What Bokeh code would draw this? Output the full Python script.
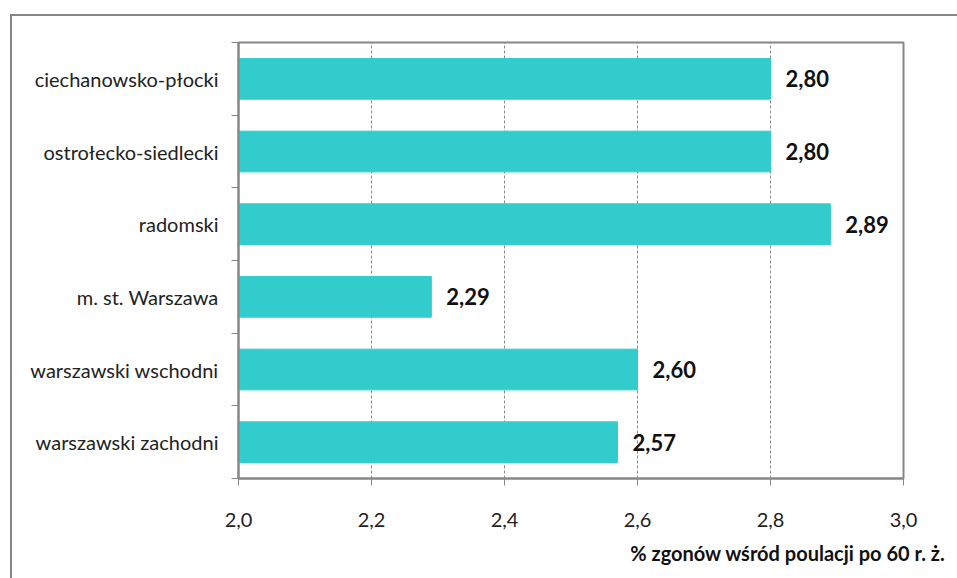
from bokeh.plotting import figure
from bokeh.models import FixedTicker, Title, ColumnDataSource
from bokeh.core.properties import value
from bokeh.embed import file_html
from bokeh.resources import INLINE

categories = ["ciechanowsko-płocki", "ostrołecko-siedlecki", "radomski",
              "m. st. Warszawa", "warszawski wschodni", "warszawski zachodni"]
values = [2.80, 2.80, 2.89, 2.29, 2.60, 2.57]
x_ticks = [2.0, 2.2, 2.4, 2.6, 2.8, 3.0]
x_tick_labels = ["2,0", "2,2", "2,4", "2,6", "2,8", "3,0"]
axis_title = "% zgonów wśród poulacji po 60 r. ż."

n = len(categories)
ypos = [n - 1 - i + 0.5 for i in range(n)]
labels = [f"{v:.2f}".replace(".", ",") for v in values]
src = ColumnDataSource(dict(y=ypos, v=values, lab=labels, cat=categories))

FONT = "Lato"
GRAY = "#868686"

p = figure(frame_width=665, frame_height=436, x_range=(2.0, 3.0), y_range=(0, n),
           output_backend="svg", toolbar_location=None,
           min_border_left=226, min_border_right=54, min_border_top=26, min_border_bottom=100)
p.styles = {"margin-left": "10px", "margin-top": "14px",
            "border-left": "2px solid #868686", "border-top": "2px solid #868686"}

p.hbar(y="y", left=2.0, right="v", height=0.56, source=src,
       fill_color="#33CCCC", line_color="#33CCCC")
p.text(x="v", y="y", text="lab", source=src, x_offset=15, text_baseline="middle",
       text_font=value(FONT), text_font_style="bold", text_font_size="22px",
       text_color="#111111")

# x axis
p.xaxis.ticker = FixedTicker(ticks=x_ticks)
p.xaxis.major_label_overrides = {t: l for t, l in zip(x_ticks, x_tick_labels)}
p.xaxis.major_label_text_font = FONT
p.xaxis.major_label_text_font_size = "20px"
p.xaxis.major_label_text_color = "#222222"
p.xaxis.major_label_standoff = 27
p.xaxis.major_tick_out = 7
p.xaxis.major_tick_in = 0
p.xaxis.minor_tick_line_color = None
p.xaxis.axis_line_color = GRAY
p.xaxis.axis_line_width = 2
p.xaxis.major_tick_line_color = GRAY

# y axis
p.yaxis.ticker = FixedTicker(ticks=ypos, minor_ticks=list(range(n + 1)))
p.yaxis.major_label_overrides = {y: c for y, c in zip(ypos, categories)}
p.yaxis.major_label_text_font = FONT
p.yaxis.major_label_text_font_size = "20px"
p.yaxis.major_label_text_color = "#222222"
p.yaxis.major_tick_out = 0
p.yaxis.major_tick_in = 0
p.yaxis.major_label_standoff = 13
p.yaxis.minor_tick_out = 7
p.yaxis.minor_tick_in = 0
p.yaxis.minor_tick_line_color = GRAY
p.yaxis.axis_line_color = GRAY
p.yaxis.axis_line_width = 2

# grid
p.ygrid.grid_line_color = None
p.xgrid.ticker = FixedTicker(ticks=x_ticks[1:])
p.xgrid.grid_line_color = "#8a8a8a"
p.xgrid.grid_line_dash = "3 2"
p.xgrid.grid_line_width = 1

p.outline_line_color = GRAY
p.outline_line_width = 2
p.outline_line_alpha = 1

p.add_layout(Title(text=axis_title, align="right", offset=-42, standoff=19,
                   text_font=FONT, text_font_style="bold", text_font_size="20px",
                   text_color="#111111"), "below")

open("out.html", "w").write(file_html(p, INLINE))
